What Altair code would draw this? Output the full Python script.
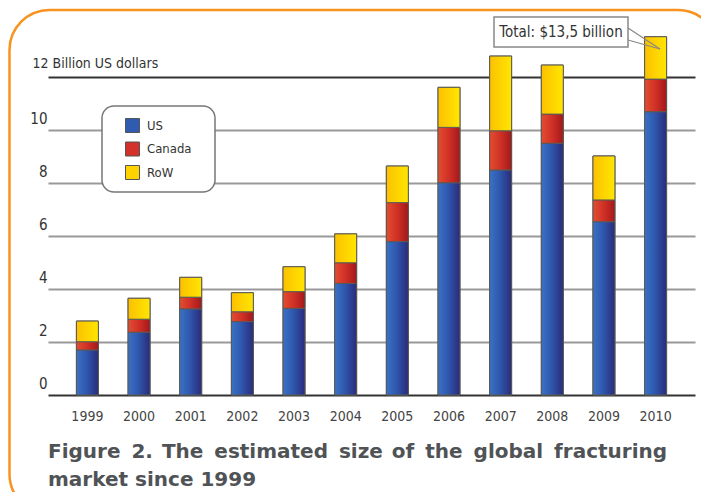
import altair as alt
import pandas as pd

years = ["1999", "2000", "2001", "2002", "2003", "2004",
         "2005", "2006", "2007", "2008", "2009", "2010"]
us = [1.70, 2.37, 3.25, 2.77, 3.27, 4.21, 5.79, 8.01, 8.49, 9.50, 6.54, 10.69]
canada = [0.31, 0.49, 0.44, 0.37, 0.63, 0.78, 1.47, 2.09, 1.48, 1.10, 0.82, 1.23]
row = [0.78, 0.79, 0.75, 0.72, 0.94, 1.09, 1.38, 1.51, 2.82, 1.85, 1.66, 1.60]
series = ["US", "Canada", "RoW"]
colors = ["#2f5bb0", "#d2322a", "#ffd200"]
y_ticks = [0, 2, 4, 6, 8, 10, 12]
y_title = "12 Billion US dollars"
callout_text = "Total: $13,5 billion"
caption = [
    "Figure\u2009 2.\u200a The\u2009 estimated\u2009 size\u200a of\u2009 the\u2009 global\u2009 fracturing",
    "market since 1999",
]

records = []
for i, yr in enumerate(years):
    for k, (s, vals) in enumerate(zip(series, [us, canada, row])):
        records.append({"year": yr, "series": s, "order": k, "value": vals[i]})
df = pd.DataFrame(records)

NARROW = "'Liberation Sans Narrow', 'Arial Narrow', 'DejaVu Sans Condensed', sans-serif"

gradients = [
    {"gradient": "linear", "x1": 0, "x2": 1, "y1": 0, "y2": 0,
     "stops": [{"offset": 0, "color": "#3a72c6"}, {"offset": 0.45, "color": "#2f58ae"},
               {"offset": 1, "color": "#2a2b7a"}]},
    {"gradient": "linear", "x1": 0, "x2": 1, "y1": 0, "y2": 0,
     "stops": [{"offset": 0, "color": "#e34d30"}, {"offset": 0.5, "color": "#cf3026"},
               {"offset": 1, "color": "#a3181a"}]},
    {"gradient": "linear", "x1": 0, "x2": 1, "y1": 0, "y2": 0,
     "stops": [{"offset": 0, "color": "#fcc000"}, {"offset": 1, "color": "#ffe600"}]},
]

x_enc = alt.X(
    "year:N", sort=years,
    scale=alt.Scale(paddingInner=0.575, paddingOuter=0.55),
    axis=alt.Axis(title=None, domain=False, ticks=False, labelAngle=0, labelPadding=14,
                  labelFont=NARROW, labelFontSize=14, labelColor="#444", grid=False),
)
y_enc = alt.Y(
    "v1:Q",
    scale=alt.Scale(domain=[0, 14], nice=False),
    axis=alt.Axis(
        values=y_ticks, title=y_title, titleAngle=0, titleAlign="left",
        titleBaseline="middle", titleX=-16, titleY=39, titleFont=NARROW,
        titleFontSize=14, titleFontWeight="normal", titleColor="#333",
        domain=False, ticks=False, labelPadding=1, labelOffset=-12,
        labelBaseline="middle", labelFont=NARROW, labelFontSize=15, labelColor="#333",
        labelExpr="datum.value == 12 ? '' : datum.label",
        gridWidth=2,
        gridColor={"condition": {"test": "datum.value == 12 || datum.value == 0",
                                 "value": "#333333"}, "value": "#999999"},
    ),
)

base = alt.Chart(df).transform_stack(
    stack="value", groupby=["year"], as_=["v0", "v1"],
    sort=[alt.SortField("order", order="ascending")],
)

legend_layer = base.mark_bar(stroke="#555", strokeWidth=1).encode(
    x=x_enc, y=y_enc, y2="v0:Q",
    color=alt.Color(
        "series:N", scale=alt.Scale(domain=series, range=colors),
        legend=alt.Legend(
            title=None, orient="none", legendX=54, legendY=82, padding=12,
            symbolType="square", symbolSize=196, symbolStrokeColor="#555",
            symbolStrokeWidth=1, symbolOffset=11, labelFont=NARROW, labelFontSize=13,
            labelColor="#333", labelOffset=7, rowPadding=4.5,
        ),
    ),
)

grad_layers = [
    base.transform_filter(alt.datum.series == s).mark_bar(
        fill=g, stroke="#5a5a55", strokeWidth=1
    ).encode(x=x_enc, y=y_enc, y2="v0:Q")
    for s, g in zip(series, gradients)
]

one = alt.Data(values=[{}])
frame = alt.Chart(one).mark_rect(
    filled=False, stroke="#f7931e", strokeWidth=2.5, cornerRadius=40
).encode(x=alt.value(-38.5), x2=alt.value(670), y=alt.value(-14), y2=alt.value(490))

legend_box = alt.Chart(one).mark_rect(
    fill="white", stroke="#777", strokeWidth=1.5, cornerRadius=12
).encode(x=alt.value(54), x2=alt.value(167), y=alt.value(82), y2=alt.value(168))

callout_box = alt.Chart(one).mark_rect(
    fill="white", stroke="#888", strokeWidth=1.5
).encode(x=alt.value(446), x2=alt.value(580), y=alt.value(-7), y2=alt.value(23))
pointer1 = alt.Chart(one).mark_rule(stroke="#888", strokeWidth=1.2).encode(
    x=alt.value(580), y=alt.value(4), x2=alt.value(612), y2=alt.value(25))
pointer2 = alt.Chart(one).mark_rule(stroke="#888", strokeWidth=1.2).encode(
    x=alt.value(580), y=alt.value(16), x2=alt.value(612), y2=alt.value(25))
callout_label = alt.Chart(one).mark_text(
    text=callout_text, font=NARROW, fontSize=15, color="#333",
    align="center", baseline="middle",
).encode(x=alt.value(513), y=alt.value(8))

chart = alt.layer(
    frame, legend_box, legend_layer, *grad_layers, pointer1, pointer2,
    callout_box, callout_label
).properties(
    width=647, height=371,
    autosize=alt.AutoSizeParams(type="none"),
    padding={"left": 40, "top": 16, "right": 6, "bottom": 97},
    title=alt.TitleParams(
        text=caption, orient="bottom", anchor="start", frame="group",
        font="DejaVu Sans", fontSize=20, fontWeight="bold", color="#505356",
        lineHeight=28, offset=-73,
    ),
    background="white",
).configure_view(strokeWidth=0)

chart.save("out.html", embed_options={"renderer": "svg", "actions": False})
